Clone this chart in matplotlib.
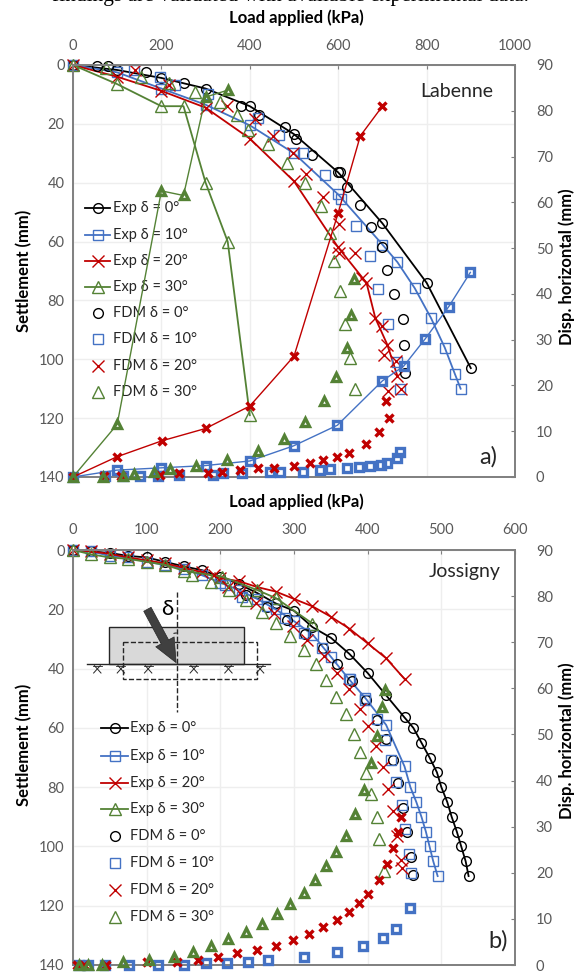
import matplotlib
matplotlib.use("Agg")
import matplotlib.pyplot as plt
from matplotlib.lines import Line2D
from matplotlib.patches import Arc

plt.rcParams['font.family'] = ['Lato', 'DejaVu Sans']

W, H = 580, 972
BLACK = "#000000"
BLUE = "#4472c4"
RED = "#c00000"
GREEN = "#548235"
GREY = "#7f7f7f"

# ---- panel a, Labenne: settlement (left axis)
a_exp0_x = [0, 100, 200, 300, 400, 500, 600, 700, 800, 900]
a_exp0_y = [0, 1.7, 4.4, 8, 14, 23.5, 36.5, 53.8, 74, 103]
a_exp10_x = [0, 100, 200, 300, 400, 500, 600, 700, 734, 773, 810, 841, 864, 877]
a_exp10_y = [0, 2.5, 8, 13.5, 20.5, 30, 44, 61, 67, 75.8, 86, 96, 105, 110]
a_exp20_x = [0, 100, 200, 300, 400, 500, 600, 664, 684, 711, 734]
a_exp20_y = [0, 4, 8.8, 14.5, 25, 39.5, 62, 74, 86, 95, 105.7]
a_exp30_x = [0, 100, 200, 250, 300, 350, 400]
a_exp30_y = [0, 6.5, 14, 14, 40, 60, 119]

a_fdm0_x = [55, 80, 165, 250, 380, 420, 480, 505, 540, 605, 620, 650, 675, 700, 711, 727, 746, 749, 751]
a_fdm0_y = [0.3, 0.5, 2.3, 6, 14, 17, 21, 25, 30.5, 36.5, 41.5, 47.5, 55, 62, 69.6, 77.7, 86.3, 95.3, 104.8]
a_fdm10_x = [138, 197, 231, 306, 419, 467, 520, 570, 607, 640, 671, 690, 713, 732, 740]
a_fdm10_y = [1.7, 4.2, 6.8, 10, 18, 23.7, 30, 37.4, 45.7, 54.7, 64.8, 76, 88, 101, 110]
a_fdm20_x = [141, 218, 348, 411, 453, 497, 528, 566, 601, 601, 639, 653, 700, 703, 730, 713, 742]
a_fdm20_y = [1.7, 6.8, 13.9, 18.3, 24, 30, 37, 45, 53.9, 64, 64, 72.4, 88.8, 98.4, 100.7, 110.8, 110]
a_fdm30_x = [75, 153, 218, 277, 333, 372, 397, 442, 485, 526, 560, 581, 591, 604, 615, 627, 638]
a_fdm30_y = [1.1, 4.2, 6, 9.3, 12.6, 16.9, 22, 27, 33.3, 40, 48, 57, 66.6, 76.7, 87.9, 99.5, 110.2]

# ---- panel a: horizontal displacement (right axis)
a_h_exp10_x = [0, 99, 199, 300, 400, 499, 598, 700, 748, 797, 850, 899]
a_h_exp10_y = [0, 1.5, 2, 2.5, 3.5, 6.8, 11.3, 21, 24.2, 30.2, 37.2, 44.7]
a_h_exp20_x = [0, 99, 201, 300, 400, 500, 600, 650, 700]
a_h_exp20_y = [0, 4.4, 7.9, 10.6, 15.5, 26.4, 57.7, 74.5, 81]
a_h_exp30_x = [0, 100, 200, 250, 300, 350]
a_h_exp30_y = [0, 11.5, 62.5, 61.5, 83, 84.5]
a_h_fdm10_x = [73, 113, 151, 193, 239, 316, 340, 383, 445, 468, 520, 558, 581, 619, 648, 671, 696, 711, 732, 740]
a_h_fdm10_y = [0.3, 0.3, 0.3, 0.3, 0.5, 0.5, 0.8, 0.8, 1, 1, 1, 1.5, 1.7, 1.9, 2.1, 2.3, 2.7, 3.1, 4.2, 5.5]
a_h_fdm20_x = [71, 109, 197, 239, 306, 338, 378, 419, 455, 500, 537, 565, 598, 625, 664, 692, 715, 709]
a_h_fdm20_y = [0.2, 0.2, 0.4, 0.8, 0.9, 1.1, 1.5, 1.9, 2, 2.5, 3.1, 3.7, 4.4, 5.2, 7.3, 9.8, 12.9, 16.6]
a_h_fdm30_x = [67, 113, 138, 183, 220, 279, 348, 418, 477, 526, 568, 594, 619, 628, 635]
a_h_fdm30_y = [0, 0.2, 0.6, 1.1, 1.7, 2.3, 3.7, 5.7, 8.4, 12.1, 16.6, 21.9, 28.2, 35.3, 43.3]

# ---- panel b, Jossigny: settlement (left axis)
b_exp0_x = [0, 25, 50, 75, 100, 125, 150, 175, 200, 225, 250, 275, 300, 325, 350, 375, 400, 425, 450, 462, 473, 484, 494, 500, 508, 514, 521, 527, 533, 537]
b_exp0_y = [0, 0.5, 1, 2, 2.5, 4, 5.5, 6.8, 9, 11.5, 14.5, 18, 20.5, 26, 29.6, 35, 41.5, 49, 56.5, 60, 65, 70, 75, 80, 85, 90, 95, 100, 105, 110]
b_exp10_x = [0, 25, 50, 75, 100, 125, 150, 175, 200, 225, 250, 275, 300, 326, 350, 374, 397, 425, 450, 458, 466, 473, 479, 484, 489, 495]
b_exp10_y = [0, 0.5, 2, 2.5, 4, 5, 6.5, 8.5, 11, 13.5, 16.5, 20, 24, 28.7, 36, 43.4, 50, 59, 73, 80, 85, 90, 95, 100, 105, 110]
b_exp20_x = [0, 25, 50, 75, 100, 125, 150, 175, 200, 225, 250, 275, 300, 325, 350, 375, 400, 425, 450]
b_exp20_y = [0, 0.5, 1.3, 2.5, 3.5, 4.5, 6, 7.5, 9.5, 10.5, 12.5, 14, 16.5, 19, 22.5, 26.5, 31.5, 36.5, 43.5]
b_exp30_x = [0, 25, 50, 75, 100, 125, 150, 202, 250, 276, 325]
b_exp30_y = [0, 1.5, 2.5, 3, 4, 5, 7, 9, 13.5, 16.3, 24.8]

b_fdm0_x = [235, 264, 291, 315, 339, 359, 379, 398, 412, 425, 434, 441, 448, 454, 459, 461]
b_fdm0_y = [15.2, 19.1, 23.6, 28.2, 33.2, 38.5, 44.1, 50.7, 57.2, 63.7, 71, 78.6, 87, 95, 103.6, 109.7]
b_fdm10_x = [207, 230, 263, 288, 313, 338, 376, 397, 412, 423, 431, 438, 446, 451, 456, 459]
b_fdm10_y = [11.8, 15.8, 19, 23, 28, 33, 43.6, 50.7, 57, 64, 71, 78.4, 86, 94, 102.6, 108.8]
b_fdm20_x = [192, 210, 227, 248, 273, 298, 318, 341, 358, 375, 389, 401, 411, 421, 428, 435, 440, 445, 446]
b_fdm20_y = [8.5, 12.4, 14.6, 18, 21.4, 25.7, 30.4, 35.7, 41.4, 47, 53.5, 59.5, 66, 73.2, 80.7, 88.2, 96.4, 104.5, 107.4]
b_fdm30_x = [162, 187, 212, 235, 257, 276, 295, 313, 330, 344, 357, 370, 381, 390, 398, 405, 412, 416, 422]
b_fdm30_y = [8.4, 10.7, 13.5, 16.9, 20.8, 24.5, 29, 33.6, 38.5, 44, 49.5, 55.4, 62, 68, 75.3, 82.2, 90, 97.4, 108.4]

# ---- panel b: horizontal displacement (right axis)
b_h10_x = [8, 20, 43, 76, 116, 150, 180, 209, 237, 265, 314, 358, 394, 421, 439, 458]
b_h10_y = [0, 0, 0, 0, 0, 0.1, 0.4, 0.5, 0.7, 1.1, 1.8, 2.9, 4.2, 5.9, 7.8, 12.3]
b_h20_x = [5, 15, 45, 101, 141, 170, 197, 223, 250, 275, 298, 320, 340, 358, 374, 388, 401, 415, 426, 435, 441, 445]
b_h20_y = [0, 0, 0, 0.6, 0.7, 1.1, 1.7, 2.5, 3.2, 4.2, 5.4, 6.7, 8.2, 9.7, 11.5, 13.5, 15.5, 18.4, 21.8, 25.3, 28.9, 32]
b_h30_x = [8, 20, 40, 68, 103, 137, 163, 188, 211, 235, 256, 277, 295, 313, 329, 344, 357, 370, 383, 395, 405, 413, 420, 423]
b_h30_y = [0, 0, 0.1, 0.6, 1.1, 1.8, 2.9, 4.1, 5.6, 7.2, 8.9, 11, 13.3, 15.7, 18.4, 21.4, 24.5, 27.9, 32.7, 38, 43.7, 49.6, 56, 59.6]

labels = ["Exp δ = 0°", "Exp δ = 10°", "Exp δ = 20°", "Exp δ = 30°",
          "FDM δ = 0°", "FDM δ = 10°", "FDM δ = 20°", "FDM δ = 30°"]
colors = [BLACK, BLUE, RED, GREEN]
marks = ["o", "s", "x", "^"]
sizes = [7, 7, 8, 8]


def pos(l, t, r, b):
    return [l / W, 1 - b / H, (r - l) / W, (b - t) / H]


def exp(ax, x, y, i, lw=1.3):
    ax.plot(x, y, color=colors[i], lw=lw, marker=marks[i], ms=sizes[i], mfc="none", mew=1.0, clip_on=False)


def fdm(ax, x, y, i):
    ax.plot(x, y, ls="none", color=colors[i], marker=marks[i], ms=sizes[i], mfc="none", mew=1.0, clip_on=False)


def horiz(ax, x, y, i, line=True):
    ax.plot(x, y, color=colors[i], lw=1.0 if line else 0, marker=marks[i], ms=5.5, mfc="none", mew=2.4, clip_on=False)


def setup(rect, xmax, xstep, name, name_x, name_y, tag, tag_x, tag_y, ly, ry):
    ax = plt.axes(pos(*rect))
    ax.set_xlim(0, xmax)
    ax.set_ylim(140, 0)
    ax.set_xticks(range(0, xmax + 1, xstep))
    ax.set_yticks(range(0, 141, 20))
    ax.xaxis.tick_top()
    ax.grid(color="#eeeeee", lw=1.0)
    ax.set_axisbelow(True)
    ax.tick_params(axis="both", labelsize=10.5, labelcolor="#595959", color=GREY, length=3)
    ax.tick_params(axis="x", direction="in", pad=9)
    ax.tick_params(axis="y", length=0, pad=6)
    for s in ax.spines.values():
        s.set_color(GREY)
        s.set_linewidth(1.4)
    ax.set_ylabel("Settlement (mm)", fontsize=12, fontweight="bold", labelpad=5, y=ly)
    ax2 = ax.twinx()
    ax2.set_ylim(0, 90)
    ax2.set_yticks(range(0, 91, 10))
    ax2.tick_params(axis="y", labelsize=10.5, labelcolor="#595959", color=GREY, length=3, direction="in", pad=15)
    for s in ax2.spines.values():
        s.set_visible(False)
    ax2.set_ylabel("Disp. horizontal (mm)", fontsize=12, fontweight="bold", labelpad=4, y=ry)
    ax.text(name_x, name_y, name, fontsize=14, color="#262626", ha="right", va="center", zorder=6)
    ax.text(tag_x, tag_y, tag, fontsize=17, color="#262626", ha="right", va="center", zorder=6)
    return ax, ax2


def legend(ax, x0, x1, tx, ys):
    # hand placed, the entries are drawn inside the plot area
    for i in range(8):
        c = colors[i % 4]
        if i < 4:
            ax.add_line(Line2D([x0, x1], [ys[i], ys[i]], color=c, lw=1.3, zorder=5))
        ax.add_line(Line2D([(x0 + x1) / 2], [ys[i]], ls="none", marker=marks[i % 4], color=c,
                           ms=sizes[i % 4], mfc="none", mew=1.0, zorder=5))
        ax.text(tx, ys[i], labels[i], fontsize=10.5, color="#262626", va="center", zorder=6)


fig = plt.figure(figsize=(W / 100, H / 100), dpi=100)

fig.text(0.5, 1.004, "findings are validated with available experimental data.", family="Liberation Serif",
         fontsize=15.5, ha="center", va="center", color="black")
fig.text(296 / W, 1 - 18 / H, "Load applied (kPa)", fontsize=12, fontweight="bold", ha="center", va="center")
fig.text(296 / W, 1 - 502 / H, "Load applied (kPa)", fontsize=12, fontweight="bold", ha="center", va="center")

# panel a
ax, ax2 = setup((73, 65, 515, 477), 1000, 200, "Labenne", 950, 9, "a)", 960, 133, 0.5, 0.51)
exp(ax, a_exp0_x, a_exp0_y, 0)
exp(ax, a_exp10_x, a_exp10_y, 1)
exp(ax, a_exp20_x, a_exp20_y, 2)
exp(ax, a_exp30_x, a_exp30_y, 3)
fdm(ax, a_fdm0_x, a_fdm0_y, 0)
fdm(ax, a_fdm10_x, a_fdm10_y, 1)
fdm(ax, a_fdm20_x, a_fdm20_y, 2)
fdm(ax, a_fdm30_x, a_fdm30_y, 3)
horiz(ax2, a_h_exp10_x, a_h_exp10_y, 1)
horiz(ax2, a_h_exp20_x, a_h_exp20_y, 2)
horiz(ax2, a_h_exp30_x, a_h_exp30_y, 3)
horiz(ax2, a_h_fdm10_x, a_h_fdm10_y, 1, line=False)
horiz(ax2, a_h_fdm20_x, a_h_fdm20_y, 2, line=False)
horiz(ax2, a_h_fdm30_x, a_h_fdm30_y, 3, line=False)
legend(ax, 27, 84, 90, [48.6, 57.8, 66.6, 75.4, 84.2, 93, 102.3, 111.1])

# panel b
bx, bx2 = setup((73, 550, 515, 965), 600, 100, "Jossigny", 580, 7.4, "b)", 590, 132, 0.53, 0.54)
exp(bx, b_exp0_x, b_exp0_y, 0)
exp(bx, b_exp10_x, b_exp10_y, 1)
exp(bx, b_exp20_x, b_exp20_y, 2)
exp(bx, b_exp30_x, b_exp30_y, 3)
fdm(bx, b_fdm0_x, b_fdm0_y, 0)
fdm(bx, b_fdm10_x, b_fdm10_y, 1)
fdm(bx, b_fdm20_x, b_fdm20_y, 2)
fdm(bx, b_fdm30_x, b_fdm30_y, 3)
horiz(bx2, b_h10_x, b_h10_y, 1, line=False)
horiz(bx2, b_h20_x, b_h20_y, 2, line=False)
horiz(bx2, b_h30_x, b_h30_y, 3, line=False)
legend(bx, 38, 75, 77, [60, 69.5, 78.6, 87.4, 96.5, 105.6, 114.7, 123.8])

# footing sketch in panel b
bx.add_patch(plt.Rectangle((49, 26), 183, 12.5, fc="#d9d9d9", ec="#262626", lw=1, zorder=4))
bx.add_patch(plt.Rectangle((68, 31), 182, 12.5, fc="none", ec="#262626", lw=1, ls="--", zorder=4))
bx.plot([19, 268], [38.5, 38.5], color="#262626", lw=1, zorder=4)
bx.plot([141, 141], [14, 54.7], color="#262626", lw=1, ls="--", zorder=4)
bx.add_patch(Arc((141, 38), 50, 20, theta1=245, theta2=270, color="#262626", lw=0.8, zorder=4))
bx.annotate("", xy=(140, 38), xytext=(101, 20), zorder=5,
            arrowprops=dict(width=6, headwidth=15, headlength=17, fc="#404040", ec="#262626", lw=0.5, shrinkA=0, shrinkB=0))
bx.text(128, 20, "δ", fontsize=16, ha="center", va="center", zorder=6)
for gx in [33, 65, 102, 164, 211, 254]:
    bx.plot([gx - 6, gx + 6], [39, 39], color="#262626", lw=0.6, zorder=4)
    bx.plot([gx - 5, gx + 4], [41.5, 39], color="#262626", lw=0.7, zorder=4)
    bx.plot([gx - 4, gx + 5], [39, 41.5], color="#262626", lw=0.7, zorder=4)

fig.savefig("out.png", dpi=100)
